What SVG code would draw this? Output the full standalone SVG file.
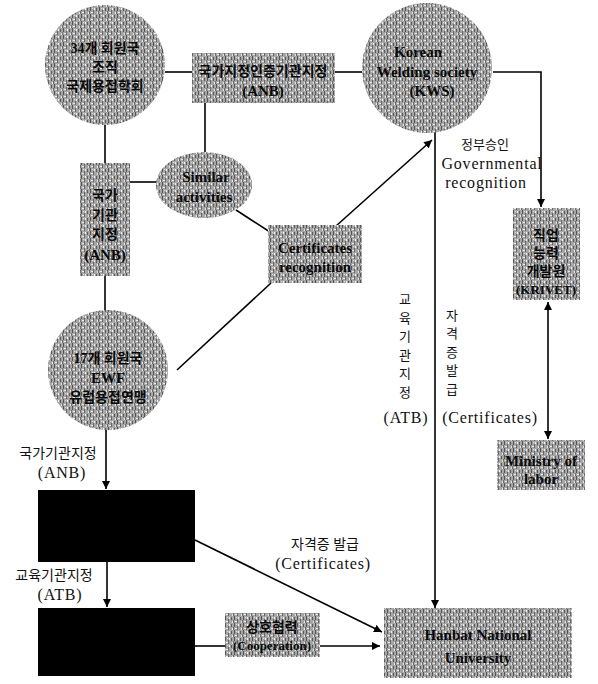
<svg xmlns="http://www.w3.org/2000/svg" width="598" height="684" viewBox="0 0 598 684">
<defs>
<pattern id="tex" width="9" height="7" patternUnits="userSpaceOnUse">
<rect width="9" height="7" fill="#a6a6a6"/>
<rect x="0" y="0" width="1" height="4" fill="#555"/>
<rect x="3" y="3" width="1" height="4" fill="#666"/>
<rect x="6" y="1" width="1" height="3" fill="#5a5a5a"/>
<rect x="8" y="4" width="1" height="3" fill="#6e6e6e"/>
<rect x="1" y="5" width="2" height="1" fill="#eee"/>
<rect x="4" y="1" width="1" height="2" fill="#f2f2f2"/>
<rect x="7" y="5" width="1" height="2" fill="#e4e4e4"/>
<rect x="2" y="1" width="1" height="1" fill="#ddd"/>
</pattern>
<marker id="ah" viewBox="0 0 10 10" refX="10" refY="5" markerWidth="8" markerHeight="8" orient="auto-start-reverse" markerUnits="userSpaceOnUse">
<path d="M0,0 L10,5 L0,10 z" fill="#000"/>
</marker>
</defs>
<style>
.n{fill:url(#tex);}
.blk{fill:#000;}
.t{font-family:"Liberation Serif","Noto Sans CJK KR",serif;font-size:15px;font-weight:bold;fill:#0a0a0a;text-anchor:middle;}
.k{font-family:"Liberation Serif","Noto Sans CJK KR",serif;font-size:14px;font-weight:bold;fill:#0a0a0a;text-anchor:middle;}
.l{font-family:"Liberation Serif","Noto Sans CJK KR",serif;font-size:13px;fill:#111;text-anchor:middle;}
.le{font-family:"Liberation Serif",serif;font-size:16px;letter-spacing:0.8px;fill:#111;text-anchor:middle;}
.c{stroke:#000;stroke-width:1.6;fill:none;}
</style>
<g id="connectors">
<line class="c" x1="165" y1="72" x2="192" y2="72"/>
<line class="c" x1="335" y1="72" x2="362" y2="72"/>
<polyline class="c" points="493,72 541,72 541,207" marker-end="url(#ah)"/>
<line class="c" x1="205" y1="103" x2="205" y2="152"/>
<line class="c" x1="105" y1="125" x2="105" y2="163"/>
<line class="c" x1="105" y1="276" x2="105" y2="316"/>
<line class="c" x1="130" y1="182" x2="157" y2="182"/>
<line class="c" x1="236" y1="210" x2="270" y2="232"/>
<line class="c" x1="336" y1="226" x2="432" y2="140" marker-end="url(#ah)"/>
<line class="c" x1="271" y1="283" x2="177" y2="370"/>
<line class="c" x1="435" y1="130" x2="435" y2="608" marker-end="url(#ah)"/>
<line class="c" x1="548" y1="302" x2="548" y2="439" marker-start="url(#ah)" marker-end="url(#ah)"/>
<line class="c" x1="106" y1="428" x2="106" y2="489" marker-end="url(#ah)"/>
<line class="c" x1="107" y1="562" x2="107" y2="607" marker-end="url(#ah)"/>
<line class="c" x1="195" y1="540" x2="382" y2="632" marker-end="url(#ah)"/>
<line class="c" x1="195" y1="646" x2="225" y2="646"/>
<line class="c" x1="320" y1="646" x2="380" y2="646" marker-end="url(#ah)"/>
</g>
<g id="iiw">
<circle class="n" cx="105" cy="65" r="60"/>
<text class="k" x="105" y="53">34개 회원국</text>
<text class="k" x="105" y="72">조직</text>
<text class="k" x="105" y="91">국제용접학회</text>
</g>
<g id="anb-top">
<rect class="n" x="192" y="53" width="143" height="50"/>
<text class="k" x="263" y="76">국가지정인증기관지정</text>
<text class="t" x="263" y="96">(ANB)</text>
</g>
<g id="kws">
<circle class="n" cx="427" cy="68" r="65"/>
<text class="t" x="418" y="57">Korean</text>
<text class="t" x="427" y="77">Welding society</text>
<text class="t" x="432" y="96">(KWS)</text>
</g>
<g id="anb-left">
<rect class="n" x="80" y="163" width="50" height="113"/>
<text class="k" x="105" y="200">국가</text>
<text class="k" x="105" y="220">기관</text>
<text class="k" x="105" y="239">지정</text>
<text class="t" x="105" y="260">(ANB)</text>
</g>
<g id="similar">
<ellipse class="n" cx="204" cy="185" rx="48" ry="33"/>
<text class="t" x="206" y="182">Similar</text>
<text class="t" x="204" y="202">activities</text>
</g>
<g id="certrec">
<rect class="n" x="268" y="225" width="94" height="58"/>
<text class="t" x="315" y="253">Certificates</text>
<text class="t" x="315" y="272">recognition</text>
</g>
<g id="ewf">
<circle class="n" cx="108" cy="370" r="60"/>
<text class="k" x="108" y="363">17개 회원국</text>
<text class="t" x="108" y="383">EWF</text>
<text class="k" x="108" y="402">유럽용접연맹</text>
</g>
<g id="krivet">
<rect class="n" x="513" y="208" width="67" height="92"/>
<text class="k" x="546" y="240">직업</text>
<text class="k" x="546" y="258">능력</text>
<text class="k" x="546" y="276">개발원</text>
<text class="t" x="546" y="294" style="font-size:13px">(KRIVET)</text>
</g>
<g id="ministry">
<rect class="n" x="497" y="440" width="88" height="50"/>
<text class="t" x="541" y="466">Ministry of</text>
<text class="t" x="541" y="484">labor</text>
</g>
<g id="black1">
<rect class="blk" x="38" y="490" width="157" height="72"/>
</g>
<g id="black2">
<rect class="blk" x="38" y="608" width="157" height="68"/>
</g>
<g id="coop">
<rect class="n" x="225" y="613" width="95" height="44"/>
<text class="k" x="272" y="632">상호협력</text>
<text class="t" x="272" y="650" style="font-size:13px">(Cooperation)</text>
</g>
<g id="hanbat">
<rect class="n" x="384" y="608" width="188" height="70"/>
<text class="t" x="478" y="640">Hanbat National</text>
<text class="t" x="478" y="663">University</text>
</g>
<g id="labels">
<text class="l" x="485" y="149">정부승인</text>
<text class="le" x="492" y="169">Governmental</text>
<text class="le" x="486" y="188">recognition</text>
<text class="l" x="405" y="304">교</text>
<text class="l" x="405" y="323">육</text>
<text class="l" x="405" y="341">기</text>
<text class="l" x="405" y="360">관</text>
<text class="l" x="405" y="378">지</text>
<text class="l" x="405" y="397">정</text>
<text class="le" x="406" y="423">(ATB)</text>
<text class="l" x="452" y="320">자</text>
<text class="l" x="452" y="338">격</text>
<text class="l" x="452" y="357">증</text>
<text class="l" x="452" y="375">발</text>
<text class="l" x="452" y="394">급</text>
<text class="le" x="490" y="423">(Certificates)</text>
<text class="l" x="58" y="458" style="font-size:14px">국가기관지정</text>
<text class="le" x="62" y="478">(ANB)</text>
<text class="l" x="54" y="580" style="font-size:14px">교육기관지정</text>
<text class="le" x="60" y="600">(ATB)</text>
<text class="l" x="325" y="549" style="font-size:14px">자격증 발급</text>
<text class="le" x="323" y="569">(Certificates)</text>
</g>
</svg>
